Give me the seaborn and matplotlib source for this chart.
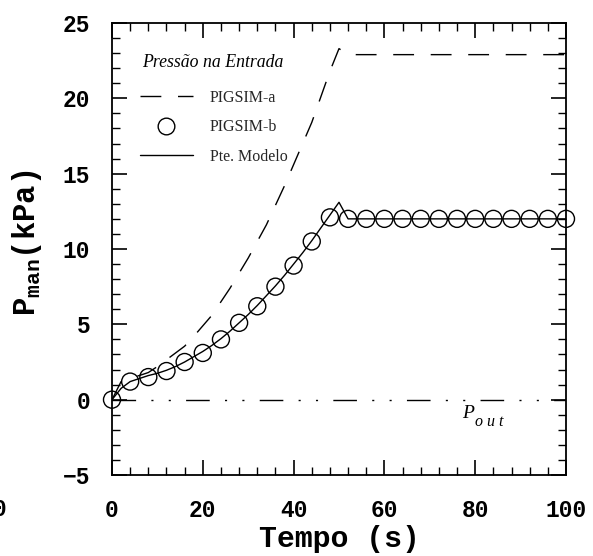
import numpy as np
import pandas as pd
import matplotlib
matplotlib.use("Agg")
import matplotlib.pyplot as plt
from matplotlib.lines import Line2D
from matplotlib.ticker import MultipleLocator
import seaborn as sns

# ---- data ----
t_line = [0, 2, 4, 6, 8, 10, 12, 14, 16, 18, 20, 22, 24, 26, 28, 30, 32, 34, 36, 38,
          40, 42, 44, 46, 48, 50, 52, 60, 70, 80, 90, 100]
pigsim_a = [0, 1.2, 1.45, 1.6, 1.8, 2.2, 2.65, 3.1, 3.55, 4.2, 4.9, 5.6, 6.5, 7.4, 8.4,
            9.4, 10.5, 11.6, 12.9, 14.2, 15.6, 17.0, 18.4, 20.1, 21.8, 23.3, 22.9,
            22.9, 22.9, 22.9, 22.9, 22.9]
modelo = [0, 0.75, 1.2, 1.4, 1.6, 1.75, 1.95, 2.2, 2.5, 2.85, 3.2, 3.6, 4.05, 4.55, 5.1,
          5.65, 6.25, 6.9, 7.55, 8.25, 9.0, 9.75, 10.55, 11.4, 12.25, 13.1, 12.0,
          12.0, 12.0, 12.0, 12.0, 12.0]
t_b = [0, 4, 8, 12, 16, 20, 24, 28, 32, 36, 40, 44, 48, 52, 56, 60, 64, 68, 72, 76,
       80, 84, 88, 92, 96, 100]
pigsim_b = [0, 1.2, 1.5, 1.9, 2.5, 3.1, 4.0, 5.1, 6.2, 7.5, 8.9, 10.5, 12.1, 12.0, 12.0,
            12.0, 12.0, 12.0, 12.0, 12.0, 12.0, 12.0, 12.0, 12.0, 12.0, 12.0]
t_out = [0, 100]
p_out = [0, 0]

legend_title = "Pressão na Entrada"
labels = ["PIGSIM-a", "PIGSIM-b", "Pte. Modelo"]

sns.set_theme(style="ticks")
plt.rcParams["mathtext.fontset"] = "custom"
plt.rcParams["mathtext.rm"] = "Liberation Mono:bold"
plt.rcParams["mathtext.it"] = "Liberation Serif:italic"
plt.rcParams["mathtext.bf"] = "Liberation Mono:bold"

fig = plt.figure(figsize=(5.93, 5.56), dpi=100)
ax = fig.add_axes([112 / 593, 1 - 475 / 556, 454 / 593, 452 / 556])

df_line = pd.DataFrame({"t": t_line, "a": pigsim_a, "m": modelo})
df_b = pd.DataFrame({"t": t_b, "b": pigsim_b})
df_out = pd.DataFrame({"t": t_out, "p": p_out})

sns.lineplot(data=df_out, x="t", y="p", ax=ax, color="black", lw=1.0,
             linestyle=(0, (17, 11, 1.5, 11, 1.5, 11)))
sns.lineplot(data=df_line, x="t", y="a", ax=ax, color="black", lw=1.0,
             linestyle=(0, (15, 12)))
sns.lineplot(data=df_line, x="t", y="m", ax=ax, color="black", lw=1.0)
sns.scatterplot(data=df_b, x="t", y="b", ax=ax, s=150, facecolor="none",
                edgecolor="black", linewidth=1.0, zorder=5, clip_on=False)

ax.set_xlim(0, 100)
ax.set_ylim(-5, 25)
ax.xaxis.set_major_locator(MultipleLocator(20))
ax.xaxis.set_minor_locator(MultipleLocator(4))
ax.yaxis.set_major_locator(MultipleLocator(5))
ax.yaxis.set_minor_locator(MultipleLocator(1))
ax.tick_params(which="both", direction="in", top=True, right=True, color="black")
ax.tick_params(which="major", length=11, width=1.2)
ax.tick_params(which="minor", length=6, width=1.0)
ax.tick_params(axis="x", which="both", pad=17.5)
ax.tick_params(axis="y", which="both", pad=15.5)
for lab in ax.get_xticklabels() + ax.get_yticklabels():
    lab.set_fontfamily("Liberation Mono")
    lab.set_fontweight("bold")
    lab.set_fontsize(16.5)
    lab.set_color("black")
for sp in ax.spines.values():
    sp.set_linewidth(1.3)
    sp.set_color("black")

ax.set_xlabel("Tempo (s)", fontfamily="Liberation Mono", fontweight="bold",
              fontsize=21.5, color="black", labelpad=2)
ax.set_ylabel(r"$\mathrm{P_{man}}$(kPa)", fontfamily="Liberation Mono",
              fontweight="bold", fontsize=22, color="black")
ax.yaxis.set_label_coords(-0.15, 0.513)

handles = [
    Line2D([0], [0], color="black", lw=1.0, linestyle=(0, (15, 12))),
    Line2D([0], [0], color="black", marker="o", ms=12, mfc="none", mec="black",
           ls="none"),
    Line2D([0], [0], color="black", lw=1.0),
]
leg = ax.legend(handles, labels, frameon=False,
                loc="upper left", bbox_to_anchor=(0.0617, 0.852), borderaxespad=0,
                borderpad=0, handlelength=3.3, handletextpad=1.06,
                labelspacing=0.85,
                prop={"family": "Liberation Serif", "size": 11.5})
ax.text(6.6, 22.1, legend_title, fontfamily="Liberation Serif", fontstyle="italic",
        fontsize=12.8, color="black", ha="left", va="baseline")

ax.text(77.1, -0.9, "P", fontfamily="Liberation Serif", fontstyle="italic",
        fontsize=14, color="black", ha="left", va="center")
ax.text(79.9, -1.45, "o u t", fontfamily="Liberation Serif", fontstyle="italic",
        fontsize=11.5, color="black", ha="left", va="center")

fig.text(0.0, 1 - 510 / 556, "0", fontfamily="Liberation Mono", fontweight="bold",
         fontsize=16.5, ha="center", va="center", color="black")

fig.savefig("out.png", dpi=100, facecolor="white")
